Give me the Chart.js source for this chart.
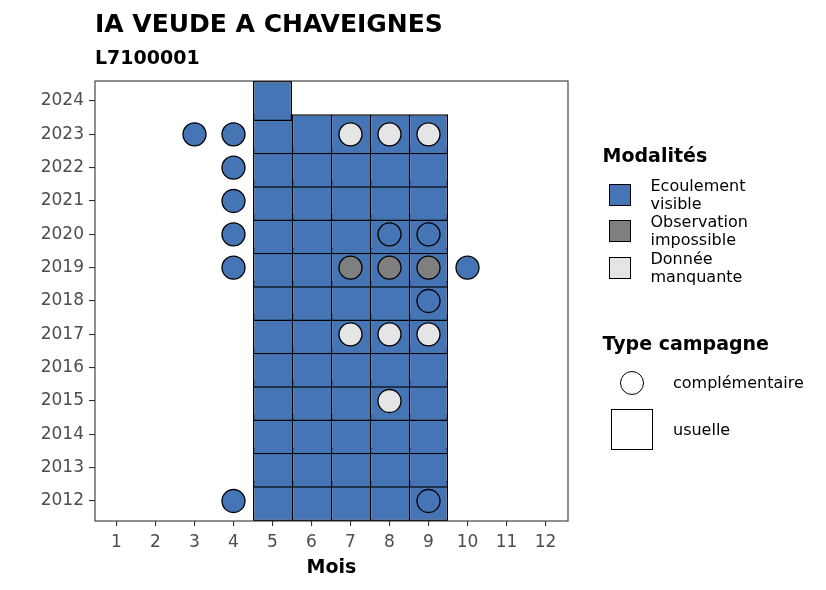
<!DOCTYPE html>
<html><head><meta charset="utf-8">
<script src="https://cdn.jsdelivr.net/npm/chart.js@4"></script>
<style>
body{margin:0;background:#fff;}
#wrap{position:relative;width:826px;height:590px;font-family:"DejaVu Sans",sans-serif;color:#000;overflow:hidden;}
#c{position:absolute;left:0;top:0;}
.t{position:absolute;line-height:1;white-space:nowrap;}
.lab{position:absolute;font-size:16px;line-height:18px;white-space:nowrap;display:flex;align-items:center;}
.key{position:absolute;box-sizing:border-box;border:1.2px solid #000;}
</style></head>
<body>
<div id="wrap">
<canvas id="c" width="826" height="590"></canvas>
<div class="t" style="left:95px;top:10.5px;font-size:25px;font-weight:bold">IA VEUDE A CHAVEIGNES</div>
<div class="t" style="left:95px;top:48px;font-size:19px;font-weight:bold">L7100001</div>
<div class="t" style="left:602.5px;top:146px;font-size:19px;font-weight:bold">Modalités</div>
<div class="t" style="left:602.5px;top:334px;font-size:19px;font-weight:bold">Type campagne</div>
<div id="legend"></div>
</div>
<script>
// ---------- data ----------
const months = [1,2,3,4,5,6,7,8,9,10,11,12];
const years = [2012,2013,2014,2015,2016,2017,2018,2019,2020,2021,2022,2023,2024];
const modaliteLabels = ['Ecoulement\nvisible','Observation\nimpossible','Donnée\nmanquante'];
const modaliteColors = ['#4575B4','#7F7F7F','#E5E5E5'];
const campagneLabels = ['complémentaire','usuelle'];

// usual campaigns (tiles): months per year, modality index per month
const usuelleYears = [2012,2013,2014,2015,2016,2017,2018,2019,2020,2021,2022,2023,2024];
const usuelleMonths = [
  [5,6,7,8,9],[5,6,7,8,9],[5,6,7,8,9],[5,6,7,8,9],[5,6,7,8,9],[5,6,7,8,9],
  [5,6,7,8,9],[5,6,7,8,9],[5,6,7,8,9],[5,6,7,8,9],[5,6,7,8,9],[5,6,7,8,9],[5]
];
const usuelleModalite = [
  [0,0,0,0,0],[0,0,0,0,0],[0,0,0,0,0],[0,0,0,0,0],[0,0,0,0,0],[0,0,0,0,0],
  [0,0,0,0,0],[0,0,0,0,0],[0,0,0,0,0],[0,0,0,0,0],[0,0,0,0,0],[0,0,0,0,0],[0]
];

// complementary campaigns (circles)
const compYears    = [2012,2012,2015,2017,2017,2017,2018,2019,2019,2019,2019,2019,2020,2020,2020,2021,2022,2023,2023,2023,2023,2023];
const compMonths   = [4,9,8,7,8,9,9,4,7,8,9,10,4,8,9,4,4,3,4,7,8,9];
const compModalite = [0,0,2,2,2,2,0,0,1,1,1,0,0,0,0,0,0,0,0,2,2,2];

// ---------- styling constants ----------
const tileHalf = 0.6;
const lineW = 1.4;
const tickColor = '#4D4D4D';
const axisColor = '#333333';
const xMin = 1 - 21.5 / 39, xMax = xMin + 473 / 39;   // 39 px per month, tile edges on whole pixels

// ---------- build datasets ----------
const tiles = [];
usuelleYears.forEach((yr, i) => {
  usuelleMonths[i].forEach((m, j) => {
    tiles.push({x: m, y: [yr - tileHalf, yr + tileHalf], yr: yr, mod: usuelleModalite[i][j]});
  });
});
const hasTile = (m, yr) => tiles.some(t => t.x === m && t.yr === yr);

const circles = compYears.map((yr, i) => ({x: compMonths[i], y: yr, mod: compModalite[i]}));

const panelBorder = {
  id: 'panelBorder',
  afterDatasetsDraw(chart) {
    const {ctx, chartArea: a} = chart;
    ctx.save();
    ctx.strokeStyle = axisColor;
    ctx.lineWidth = 1.1;
    ctx.strokeRect(a.left, a.top, a.right - a.left, a.bottom - a.top);
    ctx.restore();
  }
};

new Chart(document.getElementById('c'), {
  type: 'scatter',
  data: {
    datasets: [
      {
        type: 'scatter',
        label: campagneLabels[0],
        data: circles,
        order: 0,
        pointRadius: 11.5,
        pointHoverRadius: 11.5,
        borderWidth: 1.3,
        borderColor: '#000',
        backgroundColor: circles.map(c => modaliteColors[c.mod])
      },
      {
        type: 'bar',
        label: campagneLabels[1],
        data: tiles,
        order: 1,
        barPercentage: 1,
        categoryPercentage: 1,
        inflateAmount: 0,
        borderSkipped: false,
        borderColor: '#000',
        backgroundColor: tiles.map(t => modaliteColors[t.mod]),
        borderWidth: (ctx) => {
          const r = ctx.raw;
          if (!r) return lineW;
          return {top: lineW, bottom: lineW, left: lineW, right: hasTile(r.x + 1, r.yr) ? 0 : lineW};
        }
      }
    ]
  },
  options: {
    responsive: false,
    animation: false,
    events: [],
    layout: {padding: {left: 0, top: 81, right: 258, bottom: 0}},
    plugins: {legend: {display: false}, tooltip: {enabled: false}, title: {display: false}},
    scales: {
      x: {
        type: 'linear',
        min: xMin, max: xMax,
        offset: false,
        afterBuildTicks: (s) => { s.ticks = months.map(v => ({value: v})); },
        afterFit: (s) => { s.height = 69; },
        border: {display: false},
        grid: {drawOnChartArea: false, drawTicks: true, tickLength: 5, color: axisColor, lineWidth: 1.1, offset: false},
        ticks: {color: tickColor, font: {family: 'DejaVu Sans', size: 17}, padding: 6, maxRotation: 0, autoSkip: false, callback: v => String(v)},
        title: {display: true, text: 'Mois', color: '#000', font: {family: 'DejaVu Sans', size: 19, weight: 'bold'}, padding: {top: 0, bottom: 11}}
      },
      y: {
        type: 'linear',
        min: 2011.4, max: 2024.6,
        afterBuildTicks: (s) => { s.ticks = years.map(v => ({value: v})); },
        afterFit: (s) => { s.width = 95; },
        border: {display: false},
        grid: {drawOnChartArea: false, drawTicks: true, tickLength: 6, color: axisColor, lineWidth: 1.1},
        ticks: {color: tickColor, font: {family: 'DejaVu Sans', size: 17}, padding: 5, autoSkip: false, callback: v => String(v)}
      }
    }
  },
  plugins: [panelBorder]
});

// ---------- legend (HTML) ----------
const lg = document.getElementById('legend');
const keyTops = [183.5, 220, 256.5];
modaliteLabels.forEach((lab, i) => {
  const k = document.createElement('div');
  k.className = 'key';
  k.style.cssText = `left:609px;top:${keyTops[i]}px;width:22px;height:22px;background:${modaliteColors[i]};`;
  lg.appendChild(k);
  const t = document.createElement('div');
  t.className = 'lab';
  t.style.cssText = `left:650.5px;top:${keyTops[i] + 11 - 18}px;height:36px;white-space:pre;`;
  t.textContent = lab;
  lg.appendChild(t);
});
const circ = document.createElement('div');
circ.className = 'key';
circ.style.cssText = 'left:619.5px;top:370.5px;width:24px;height:24px;border-radius:50%;background:#fff;';
lg.appendChild(circ);
const sq = document.createElement('div');
sq.className = 'key';
sq.style.cssText = 'left:611px;top:409px;width:41.5px;height:41px;background:#fff;';
lg.appendChild(sq);
[[campagneLabels[0], 382.5], [campagneLabels[1], 429.5]].forEach(([txt, cy]) => {
  const t = document.createElement('div');
  t.className = 'lab';
  t.style.cssText = `left:673px;top:${cy - 9}px;height:18px;`;
  t.textContent = txt;
  lg.appendChild(t);
});
</script>
</body></html>
